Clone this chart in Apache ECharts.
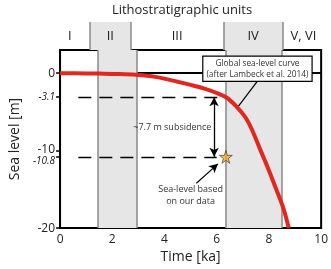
<!DOCTYPE html>
<html>
<head>
<meta charset="utf-8">
<script src="https://cdn.jsdelivr.net/npm/echarts@6/dist/echarts.min.js"></script>
<style>
  html, body { margin: 0; padding: 0; background: #fff; }
  #chart { width: 331px; height: 269px; }
</style>
</head>
<body>
<div id="chart"></div>
<script>
// sea-level curve (time in ka, level in m)
const curveTime = [0, 1, 1.5, 2.2, 2.9, 3.65, 4.5, 5.0, 5.5, 6.0, 6.4, 6.75, 7.1, 7.34, 7.66, 7.97, 8.27, 8.55, 8.76]
const curveLevel = [0, -0.02, -0.05, -0.1, -0.2, -0.47, -1.1, -1.5, -1.95, -2.55, -3.2, -4.28, -5.7, -7.2, -9.8, -12.3, -14.9, -17.4, -20]

const unitNames = ['I', 'II', 'III', 'IV', 'V, VI']
const unitBounds = [0, 1.45, 2.95, 6.33, 8.5, 10]
const shadedUnits = ['II', 'IV']

const levelTicks = [0, -10, -20]
const markedLevels = [-3.1, -10.8]

const sample = { time: 6.35, level: -10.8 }
const subsidenceTime = 5.9
const dashStart = 0.7
const dashEnd = [6.2, 6.0]

const FONT = 'Open Sans'
const chart = echarts.init(document.getElementById('chart'))

const bandAreas = unitNames.map((name, i) => [
  {
    xAxis: unitBounds[i],
    name: name,
    itemStyle: { color: shadedUnits.includes(name) ? '#e6e6e6' : 'rgba(0,0,0,0)' }
  },
  { xAxis: unitBounds[i + 1] }
])
const edgeLines = unitBounds.slice(1, -1).map(b => ({ xAxis: b }))
const edgeStyle = { color: '#8a8a8a', width: 1.5, type: 'solid' }

const dashStyle = { color: '#000', width: 1.3, type: [13, 8] }

const option = {
  animation: false,
  textStyle: { fontFamily: FONT },
  title: {
    text: 'Lithostratigraphic units',
    left: 177,
    top: -1,
    textAlign: 'center',
    textStyle: { fontFamily: FONT, fontSize: 13, fontWeight: 'normal', color: '#222' }
  },
  grid: [
    { left: 50, right: 7, top: 50, bottom: 38, show: true, borderColor: '#000', borderWidth: 2, backgroundColor: 'transparent' },
    { left: 50, right: 7, top: 22, height: 28 }
  ],
  xAxis: [
    {
      type: 'value', min: 0, max: 10, interval: 2, gridIndex: 0,
      name: 'Time [ka]', nameLocation: 'middle', nameGap: 21,
      nameTextStyle: { fontSize: 14, color: '#222', fontFamily: FONT },
      axisLine: { show: true, lineStyle: { color: '#000', width: 2 } },
      axisTick: { show: false },
      splitLine: { show: false },
      axisLabel: { fontSize: 12, color: '#222', margin: 5, fontFamily: FONT }
    },
    { type: 'value', min: 0, max: 10, gridIndex: 1, show: false }
  ],
  yAxis: [
    {
      type: 'value', min: -20, max: 3, gridIndex: 0,
      name: 'Sea level [m]', nameLocation: 'middle', nameGap: 34,
      nameTextStyle: { fontSize: 14, color: '#222', fontFamily: FONT },
      axisLine: { show: true, lineStyle: { color: '#000', width: 2 } },
      axisTick: {
        show: true, length: 4, lineStyle: { color: '#000', width: 1.5 },
        customValues: levelTicks.concat(markedLevels)
      },
      splitLine: { show: false },
      axisLabel: {
        fontSize: 12, color: '#222', margin: 5, fontFamily: FONT,
        customValues: levelTicks.concat(markedLevels),
        formatter: v => {
          if (v === markedLevels[0]) return '{it|' + v + '}'
          if (v === markedLevels[1]) return '{itLow|' + v + '}'
          if (v === -10) return '{up|' + v + '}'
          return String(v)
        },
        rich: {
          it: { fontStyle: 'italic', fontSize: 10, color: '#222', fontFamily: FONT },
          itLow: { fontStyle: 'italic', fontSize: 10, color: '#222', fontFamily: FONT, padding: [8, 0, 0, 0] },
          up: { fontSize: 12, color: '#222', fontFamily: FONT, padding: [0, 0, 3, 0] }
        }
      }
    },
    { type: 'value', min: 0, max: 1, gridIndex: 1, show: false }
  ],
  series: [
    {
      // unit labels and band tops above the box
      type: 'line', xAxisIndex: 1, yAxisIndex: 1, data: [],
      markArea: {
        silent: true,
        label: { show: true, position: 'inside', fontSize: 13, color: '#222', fontFamily: FONT },
        data: bandAreas
      },
      markLine: { silent: true, symbol: 'none', label: { show: false }, lineStyle: edgeStyle, data: edgeLines }
    },
    {
      // shaded bands inside the plot
      type: 'line', data: [],
      markArea: {
        silent: true,
        label: { show: false },
        data: bandAreas
      },
      markLine: { silent: true, symbol: 'none', label: { show: false }, lineStyle: edgeStyle, data: edgeLines }
    },
    {
      // dashed reference levels and arrows
      type: 'line', data: [],
      markLine: {
        silent: true,
        symbol: 'none',
        label: { show: false },
        lineStyle: dashStyle,
        data: [
          [{ coord: [dashStart, markedLevels[0]] }, { coord: [dashEnd[0], markedLevels[0]] }],
          [{ coord: [dashStart, markedLevels[1]] }, { coord: [dashEnd[1], markedLevels[1]] }],
          [
            { coord: [subsidenceTime, markedLevels[0]], symbol: 'arrow', symbolSize: [7, 9], lineStyle: { type: 'solid', width: 1.3 } },
            { coord: [subsidenceTime, markedLevels[1]], symbol: 'arrow', symbolSize: [7, 9] }
          ],
          [
            { coord: [7.59, -0.89], lineStyle: { type: 'solid', width: 1.2 } },
            { coord: [6.82, -4.3] }
          ],
          [
            { coord: [5.22, -14.2], lineStyle: { type: 'solid', width: 1.2 } },
            { coord: [6.05, -11.7], symbol: 'arrow', symbolSize: [7, 9] }
          ]
        ]
      },
      markPoint: {
        silent: true,
        symbol: 'rect',
        symbolSize: 0,
        data: [
          {
            coord: [4.3, -7.0],
            label: { show: true, formatter: '~7.7 m subsidence', fontSize: 9, color: '#333', fontFamily: FONT, position: 'inside' }
          },
          {
            coord: [5.0, -15.75],
            label: { show: true, formatter: 'Sea-level based\non our data', fontSize: 9, lineHeight: 12, color: '#333', fontFamily: FONT, position: 'inside', align: 'center' }
          },
          {
            coord: [7.56, 0.57],
            label: {
              show: true, formatter: 'Global sea-level curve\n(after Lambeck et al. 2014)',
              fontSize: 8.3, lineHeight: 11, color: '#333', fontFamily: FONT, position: 'inside', align: 'center',
              backgroundColor: '#fff', borderColor: '#000', borderWidth: 1.2, padding: [1, 3]
            }
          }
        ]
      }
    },
    {
      name: 'Global sea-level curve',
      type: 'line',
      z: 5,
      smooth: 0.3,
      symbol: 'none',
      data: curveTime.map((t, i) => [t, curveLevel[i]]),
      lineStyle: { color: '#e3271f', width: 4 }
    },
    {
      name: 'Sea-level based on our data',
      type: 'scatter',
      z: 6,
      symbol: 'path://M50,0 L61,35 L98,35 L68,57 L79,91 L50,70 L21,91 L32,57 L2,35 L39,35 Z',
      symbolSize: 13,
      data: [[sample.time, sample.level]],
      itemStyle: { color: '#f7a823', borderColor: '#333', borderWidth: 0.8 }
    }
  ]
}

chart.setOption(option)
window.addEventListener('resize', () => chart.resize())
</script>
</body>
</html>
